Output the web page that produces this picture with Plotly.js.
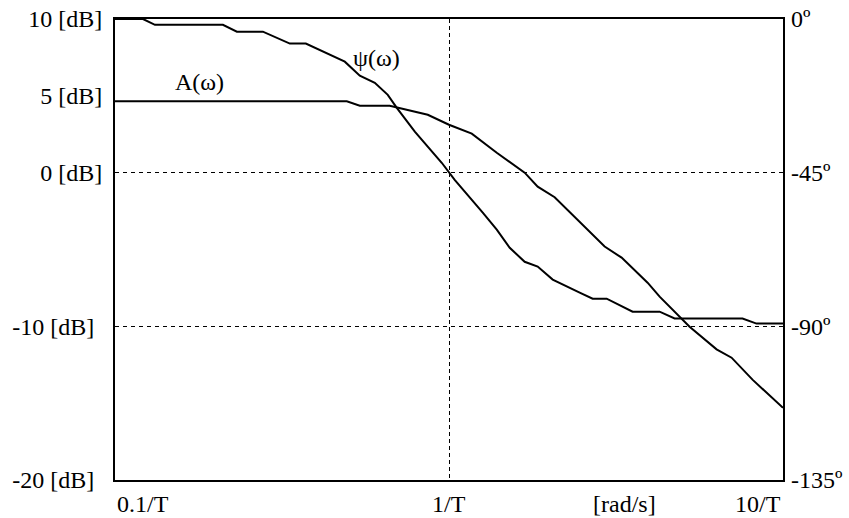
<!DOCTYPE html>
<html>
<head>
<meta charset="utf-8">
<script src="https://cdn.plot.ly/plotly-3.0.1.min.js"></script>
<style>html,body{margin:0;padding:0;background:#fff;}#chart{width:849px;height:518px;}</style>
</head>
<body>
<div id="chart"></div>
<script>
// frequency in units of 1/T
const ampOmega = [0.1, 0.4943, 0.5407, 0.6647, 0.8639, 1.0, 1.17, 1.39, 1.685, 1.843, 2.072, 2.462, 2.924, 3.287, 3.932, 4.272, 5.252, 6.326, 7.016, 8.103, 10];
const ampDb    = [4.64, 4.64, 4.36, 4.36, 3.77, 3.12, 2.54, 1.30, 0, -0.91, -1.6, -3.19, -4.81, -5.53, -7.16, -8.07, -10.02, -11.5, -12.04, -13.47, -15.3];

const phaseOmega = [0.1, 0.1213, 0.1317, 0.2104, 0.2317, 0.2772, 0.3338, 0.3727, 0.4876, 0.5407, 0.5996, 0.6557, 0.6978, 0.79, 0.9512, 1.0, 1.04, 1.262, 1.39, 1.52, 1.685, 1.843, 2.044, 2.462, 2.692, 2.965, 3.546, 4.272, 4.736, 7.565, 8.332, 10];
const phaseDeg   = [0, 0, -1.7, -1.7, -3.7, -3.7, -7.2, -7.2, -12.5, -16.6, -18.7, -22.2, -26.0, -33.0, -42.1, -45, -47.1, -56.7, -61.7, -67.0, -71.1, -72.5, -76.3, -80.1, -81.9, -81.9, -85.7, -85.7, -87.7, -87.7, -89.2, -89.2];

const dbTickVals = [10, 5, 0, -10, -20];
const dbTickText = ["10 [dB]", "5 [dB]", "0 [dB]", "-10 [dB]\u00A0\u200A", "-20 [dB]\u00A0\u200A"];
const degTickVals = [0, -45, -90, -135];
const degTickText = ["0º", "-45º", "-90º", "-135º"];
const xLabelVals = [0.1, 1, 3.36, 10];
const xLabelText = ["0.1/T", "1/T", "[rad/s]", "10/T"];
const xLabelAnchor = ["left", "center", "center", "right"];
const curveLabels = ["A(ω)", "ψ(ω)"];

const font = {family: "Liberation Serif, Times New Roman, serif", size: 24, color: "#000"};

const traces = [
  {x: ampOmega, y: ampDb, type: "scatter", mode: "lines", line: {color: "#000", width: 2}, yaxis: "y", hoverinfo: "none"},
  {x: phaseOmega, y: phaseDeg, type: "scatter", mode: "lines", line: {color: "#000", width: 2}, yaxis: "y2", hoverinfo: "none"}
];

const annotations = xLabelVals.map((v, i) => ({
  x: Math.log10(v), xref: "x", y: 0, yref: "paper", yanchor: "top", xanchor: xLabelAnchor[i],
  yshift: -9, text: xLabelText[i], showarrow: false, font: font
}));
annotations.push({x: Math.log10(0.1796), xref: "x", y: 5.92, yref: "y", text: curveLabels[0], showarrow: false, font: font});
annotations.push({x: Math.log10(0.6078), xref: "x", y: 7.48, yref: "y", text: curveLabels[1], showarrow: false, font: font});

const layout = {
  width: 849, height: 518,
  margin: {l: 115, r: 65.5, t: 19, b: 37.5},
  paper_bgcolor: "#fff", plot_bgcolor: "#fff",
  showlegend: false,
  font: font,
  xaxis: {
    type: "log", range: [-1, 1], tickvals: [1], showticklabels: false, ticks: "",
    showgrid: true, gridcolor: "#000", gridwidth: 1, griddash: "4px,3px",
    showline: true, mirror: true, linecolor: "#000", linewidth: 2, zeroline: false, fixedrange: true
  },
  yaxis: {
    range: [-20, 10], tickvals: dbTickVals, ticktext: dbTickText, ticks: "",
    showgrid: false, zeroline: false, showline: true, mirror: true, linecolor: "#000", linewidth: 2,
    tickfont: font, ticklabelstandoff: 6, fixedrange: true
  },
  yaxis2: {
    overlaying: "y", side: "right", range: [-135, 0], tickvals: degTickVals, ticktext: degTickText, ticks: "",
    showgrid: true, gridcolor: "#000", gridwidth: 1, griddash: "4px,4px",
    zeroline: false, showline: false, tickfont: font, ticklabelstandoff: 7, fixedrange: true
  },
  annotations: annotations
};

Plotly.newPlot("chart", traces, layout, {displayModeBar: false, staticPlot: true});
</script>
</body>
</html>
